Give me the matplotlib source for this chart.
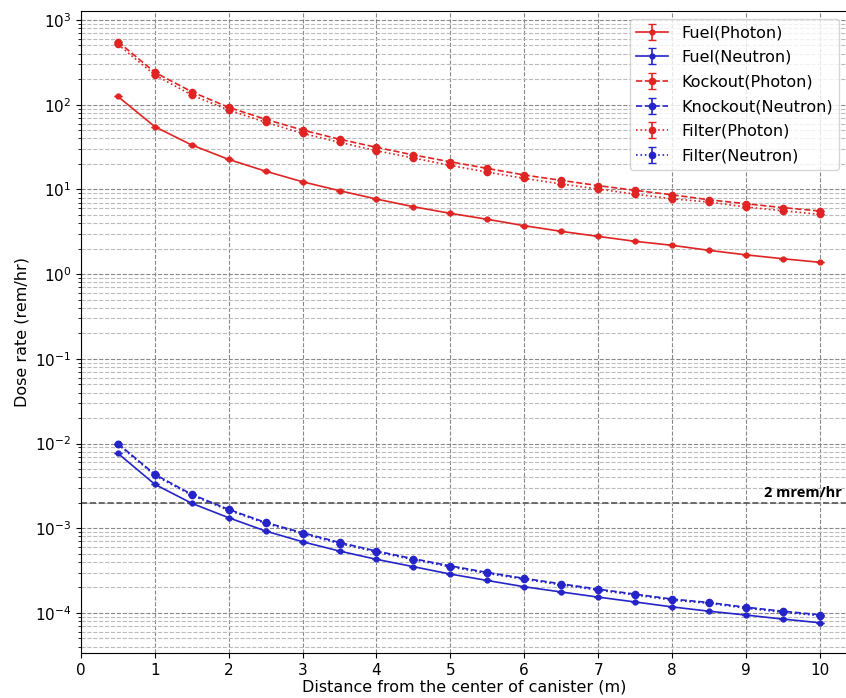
import matplotlib

matplotlib.use("Agg")
import matplotlib.pyplot as plt
import numpy as np

distance = [0.5, 1.0, 1.5, 2.0, 2.5, 3.0, 3.5, 4.0, 4.5, 5.0,
            5.5, 6.0, 6.5, 7.0, 7.5, 8.0, 8.5, 9.0, 9.5, 10.0]

fuel_photon = [125, 55, 33.4, 22.6, 16.4, 12.3, 9.66, 7.7, 6.25, 5.22,
               4.44, 3.73, 3.2, 2.79, 2.44, 2.19, 1.91, 1.69, 1.52, 1.38]
fuel_neutron = [7.66e-3, 3.3e-3, 1.97e-3, 1.33e-3, 9.27e-4, 6.93e-4, 5.38e-4, 4.3e-4, 3.52e-4, 2.88e-4,
                2.42e-4, 2.04e-4, 1.77e-4, 1.54e-4, 1.35e-4, 1.18e-4, 1.05e-4, 9.46e-5, 8.48e-5, 7.67e-5]
knockout_photon = [555, 241, 142, 93, 67.3, 50.2, 39.1, 31.4, 25.5, 21.2,
                   17.7, 14.8, 12.8, 11.1, 9.75, 8.65, 7.55, 6.78, 6.1, 5.56]
knockout_neutron = [1.0e-2, 4.33e-3, 2.51e-3, 1.67e-3, 1.17e-3, 8.85e-4, 6.8e-4, 5.38e-4, 4.37e-4, 3.6e-4,
                    3.01e-4, 2.56e-4, 2.21e-4, 1.91e-4, 1.67e-4, 1.46e-4, 1.33e-4, 1.17e-4, 1.05e-4, 9.53e-5]
filter_photon = [516, 224, 130, 86.5, 62, 45.9, 36, 28.6, 23.5, 19.2,
                 16.0, 13.5, 11.6, 10.1, 8.8, 7.76, 7.1, 6.2, 5.6, 5.08]
filter_neutron = [9.8e-3, 4.2e-3, 2.45e-3, 1.63e-3, 1.14e-3, 8.6e-4, 6.6e-4, 5.25e-4, 4.26e-4, 3.5e-4,
                  2.93e-4, 2.5e-4, 2.15e-4, 1.86e-4, 1.63e-4, 1.42e-4, 1.3e-4, 1.14e-4, 1.02e-4, 9.3e-5]

limit_value = 2e-3
limit_label = "2 mrem/hr"
decades = [1e-4, 1e-3, 1e-2, 1e-1, 1e0, 1e1, 1e2, 1e3]

RED = "#e02424"
BLUE = "#2424c8"

series = [
    ("Fuel(Photon)", fuel_photon, RED, "-", 3.5),
    ("Fuel(Neutron)", fuel_neutron, BLUE, "-", 3.5),
    ("Kockout(Photon)", knockout_photon, RED, "--", 4.5),
    ("Knockout(Neutron)", knockout_neutron, BLUE, "--", 4.5),
    ("Filter(Photon)", filter_photon, RED, ":", 4.5),
    ("Filter(Neutron)", filter_neutron, BLUE, ":", 4.5),
]

fig = plt.figure(figsize=(8.46, 6.98), dpi=100)
ax = fig.add_axes([81 / 846, 45 / 698, 766 / 846, 642 / 698])

for label, values, color, ls, ms in series:
    ax.errorbar(distance, values, yerr=0, label=label, color=color, linestyle=ls,
                linewidth=1.2, marker="o", markersize=ms, capsize=3, elinewidth=1.2)

# regulatory limit line
ax.axhline(limit_value, color="#555555", linestyle="--", linewidth=1.2)
ax.text(10.3, limit_value * 1.08, limit_label, ha="right", va="bottom",
        fontsize=10.5, fontweight="bold", family="Open Sans")

ax.set_yscale("log")
ax.set_xlim(0, 10.37)
ax.set_ylim(3.37e-5, 1277)
ax.set_xticks(range(0, 11))
ax.set_yticks(decades)
ax.tick_params(labelsize=11)

ax.grid(which="major", color="#888888", linestyle="--", linewidth=0.8)
ax.grid(which="minor", axis="y", color="#bbbbbb", linestyle="--", linewidth=0.8)

ax.set_xlabel("Distance from the center of canister (m)", fontsize=11.5, labelpad=1)
ax.set_ylabel("Dose rate (rem/hr)", fontsize=11.5)
ax.legend(loc="upper right", fontsize=11.5, handlelength=2.0, labelspacing=0.6)

fig.savefig("out.png", dpi=100)
plt.close(fig)
